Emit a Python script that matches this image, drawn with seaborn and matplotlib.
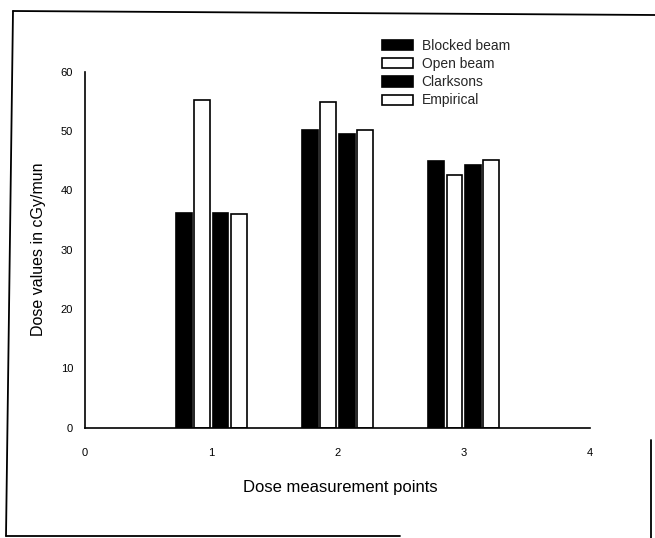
import matplotlib
matplotlib.use("Agg")
import matplotlib.pyplot as plt
from matplotlib.patches import Patch
from matplotlib.lines import Line2D
import pandas as pd
import seaborn as sns

# Dose rate (cGy/min) at each measurement point, per method
points = [1, 2, 3]
series = ["Blocked beam", "Open beam", "Clarksons", "Empirical"]
blocked_beam = [36.2, 50.2, 45.0]
open_beam = [55.3, 55.0, 42.6]
clarksons = [36.2, 49.6, 44.3]
empirical = [36.0, 50.2, 45.1]

x_ticks = [0, 1, 2, 3, 4]
y_ticks = [0, 10, 20, 30, 40, 50, 60]

df = pd.DataFrame({
    "point": points * len(series),
    "series": [s for s in series for _ in points],
    "dose": blocked_beam + open_beam + clarksons + empirical,
})

sns.set_theme(style="white")
plt.rcParams["font.family"] = ["Liberation Sans", "DejaVu Sans"]

W, H = 655, 538
fig = plt.figure(figsize=(W / 100, H / 100), dpi=100)
ax = fig.add_axes([85 / W, 1 - 427.5 / H, 505 / W, 355.5 / H])

colors = ["black", "white", "black", "white"]
sns.barplot(
    data=df, x="point", y="dose", hue="series", hue_order=series,
    palette=colors, saturation=1, native_scale=True, dodge=True,
    width=0.58, gap=0.14, edgecolor="black", linewidth=1.2,
    legend=False, ax=ax,
)

ax.set_xlim(0, 4)
ax.set_ylim(0, 60)
ax.set_xticks(x_ticks)
ax.set_xticklabels([str(t) for t in x_ticks])
ax.set_yticks(y_ticks)
ax.set_yticklabels([str(t) for t in y_ticks])

for side in ("top", "right"):
    ax.spines[side].set_visible(False)
for side in ("left", "bottom"):
    ax.spines[side].set_color("black")
    ax.spines[side].set_linewidth(1.2)

ax.tick_params(axis="both", direction="out", length=3, width=1.2,
               colors="black", labelsize=8)
ax.tick_params(axis="x", pad=11.5)
ax.tick_params(axis="y", pad=5.5)

ax.set_xlabel("Dose measurement points", fontsize=12, color="black")
ax.xaxis.set_label_coords(0.505, -0.148)
ax.set_ylabel("Dose values in cGy/mun", fontsize=11.5, color="black")
ax.yaxis.set_label_coords(-0.077, 0.5)

handles = [Patch(facecolor=c, edgecolor="black", linewidth=1.2) for c in colors]
ax.legend(handles, series, loc="upper left", bbox_to_anchor=(0.588, 1.093),
          borderaxespad=0, borderpad=0, frameon=False, fontsize=10,
          handlelength=2.25, handleheight=0.75, handletextpad=0.6,
          labelspacing=0.3)

# Page frame around the figure
def frame_line(x0, y0, x1, y1):
    fig.add_artist(Line2D([x0 / W, x1 / W], [1 - y0 / H, 1 - y1 / H],
                          transform=fig.transFigure, color="black", lw=1.3))

frame_line(13, 11, 655, 15)
frame_line(13, 11, 6, 536)
frame_line(6, 536, 400, 536)
frame_line(651, 440, 651, 538)

fig.savefig("out.png", dpi=100)
